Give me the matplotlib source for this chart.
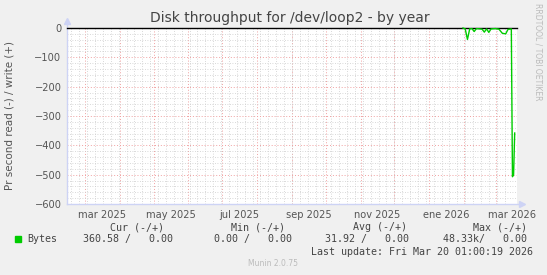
import matplotlib
matplotlib.use("Agg")
import matplotlib.pyplot as plt
import matplotlib.dates as mdates
from matplotlib.ticker import MultipleLocator, FuncFormatter
import pandas as pd

# --- data ---
read_dates = ['2026-01-31', '2026-02-02', '2026-02-04', '2026-02-06', '2026-02-08',
              '2026-02-10', '2026-02-12', '2026-02-15', '2026-02-17', '2026-02-19',
              '2026-02-21', '2026-02-23', '2026-02-25', '2026-03-01', '2026-03-04',
              '2026-03-07', '2026-03-10', '2026-03-12', '2026-03-15', '2026-03-16',
              '2026-03-17', '2026-03-18']
read_bytes = [0, 3, 39, 3, 2, 12, 2, 3, 4, 14, 3, 15, 3, 2, 4, 18, 20, 5, 3, 507, 500, 358]

legend_heads = ['Cur (-/+)', 'Min (-/+)', 'Avg (-/+)', 'Max (-/+)']
legend_vals = ['360.58 /   0.00', '0.00 /   0.00', '31.92 /   0.00', '48.33k/   0.00']
head_x = [137, 258, 380, 500]
vals_right = [173, 292, 409, 527]

month_names = ['ene', 'feb', 'mar', 'abr', 'may', 'jun', 'jul', 'ago', 'sep', 'oct', 'nov', 'dic']

end = pd.Timestamp('2026-03-20 01:00:19')
start = end - pd.Timedelta(days=400)

W, H = 547, 275
fig = plt.figure(figsize=(W / 100, H / 100), dpi=100)
fig.patch.set_facecolor('#F0F0F0')
ax = fig.add_axes([67 / W, 1 - 204 / H, 450 / W, 176 / H])
ax.set_facecolor('white')

dates = pd.to_datetime(read_dates)
ax.set_xlim(start, end)
ax.set_ylim(-600, 0)

# grid
ax.yaxis.set_major_locator(MultipleLocator(100))
ax.yaxis.set_minor_locator(MultipleLocator(20))
ax.xaxis.set_minor_locator(mdates.WeekdayLocator(byweekday=mdates.MO))
ax.xaxis.set_major_locator(mdates.MonthLocator(bymonth=[3, 5, 7, 9, 11, 1], bymonthday=16))
ax.xaxis.set_major_formatter(FuncFormatter(
    lambda v, p: '%s %d' % (month_names[mdates.num2date(v).month - 1], mdates.num2date(v).year)))
ax.grid(which='minor', color='#cccccc', linestyle=(0, (1, 2)), linewidth=0.6)
ax.grid(which='major', axis='y', color='#f0a0a0', linestyle=(0, (1, 2)), linewidth=0.7)
for m in pd.date_range('2025-03-01', '2026-03-01', freq='MS'):
    ax.axvline(m, color='#f0a0a0', linestyle=(0, (1, 2)), linewidth=0.7, zorder=1)

for s in ax.spines.values():
    s.set_visible(False)
ax.tick_params(which='both', length=0, labelsize=7.1, labelcolor='#555555', pad=4)
ax.set_yticks(range(-600, 1, 100))

# axes with arrows
axis_col = '#cdd3f5'
ax.plot([0, 0], [0, 1.03], transform=ax.transAxes, color=axis_col, lw=1, clip_on=False)
ax.plot([0], [1.04], marker='^', ms=4, color=axis_col, transform=ax.transAxes, clip_on=False)
ax.plot([0, 1.005], [0, 0], transform=ax.transAxes, color=axis_col, lw=1, clip_on=False)
ax.plot([1.012], [0], marker='>', ms=4, color=axis_col, transform=ax.transAxes, clip_on=False)

ax.axhline(0, color='black', lw=1, zorder=3, clip_on=False)
ax.plot(dates, [-v for v in read_bytes], color='#00CC00', lw=1, zorder=4, clip_on=False)

# texts
fig.text(290 / W, 1 - 18 / H, 'Disk throughput for /dev/loop2 - by year', ha='center', va='center',
         fontsize=10, color='#444444')
fig.text(10 / W, 1 - 116 / H, 'Pr second read (-) / write (+)', rotation=90, ha='center', va='center',
         fontsize=7.5, color='#555555')
fig.text(538 / W, 1 - 52 / H, 'RRDTOOL / TOBI OETIKER', rotation=270, ha='center', va='center',
         fontsize=5.5, color='#bbbbbb')

mono = dict(family='DejaVu Sans Mono', fontsize=7.2, color='#444444')
for hx, h in zip(head_x, legend_heads):
    fig.text(hx / W, 1 - 227 / H, h, ha='center', va='center', **mono)
for vr, v in zip(vals_right, legend_vals):
    fig.text(vr / W, 1 - 239 / H, v, ha='right', va='center', **mono)
fig.patches.append(plt.Rectangle((15 / W, 1 - 242 / H), 6 / W, 6 / H, color='#00CC00',
                                 transform=fig.transFigure, figure=fig))
fig.text(27 / W, 1 - 239 / H, 'Bytes', ha='left', va='center', **mono)
fig.text(533 / W, 1 - 252 / H, 'Last update: Fri Mar 20 01:00:19 2026', ha='right', va='center', **mono)
fig.text(273 / W, 1 - 263 / H, 'Munin 2.0.75', ha='center', va='center', fontsize=5.5, color='#bbbbbb')

fig.savefig('out.png', dpi=100, facecolor=fig.get_facecolor())
